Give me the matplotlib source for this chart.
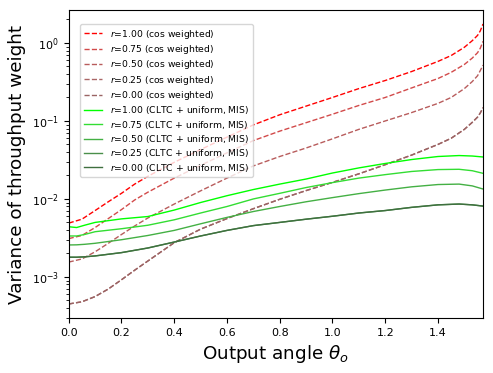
import numpy as np
import matplotlib
matplotlib.use('Agg')
import matplotlib.pyplot as plt

# 出射角 (rad)
theta_cos = [0.0, 0.05, 0.1, 0.15, 0.2, 0.25, 0.3, 0.4, 0.5, 0.6, 0.7, 0.8, 0.9, 1.0,
             1.1, 1.2, 1.3, 1.4, 1.45, 1.5, 1.53, 1.55, 1.56, 1.5708]
theta_mis = [0.0, 0.03, 0.06, 0.1, 0.2, 0.3, 0.4, 0.5, 0.6, 0.7, 0.8, 0.9, 1.0,
             1.1, 1.2, 1.3, 1.4, 1.48, 1.53, 1.5708]

r_values = [1.00, 0.75, 0.50, 0.25, 0.00]

# cos weighted 的方差
cos_r100 = [4.9e-3, 5.5e-3, 7.1e-3, 9.2e-3, 1.18e-2, 1.55e-2, 1.95e-2, 2.95e-2, 4.3e-2, 6.2e-2,
            8.9e-2, 0.12, 0.155, 0.2, 0.26, 0.33, 0.43, 0.58, 0.69, 0.88, 1.07, 1.25, 1.42, 1.75]
cos_r075 = [3.1e-3, 3.4e-3, 4.3e-3, 5.6e-3, 7.3e-3, 9.7e-3, 1.22e-2, 1.85e-2, 2.7e-2, 3.9e-2,
            5.6e-2, 7.4e-2, 9.5e-2, 0.122, 0.158, 0.2, 0.265, 0.35, 0.42, 0.53, 0.64, 0.75, 0.85, 1.05]
cos_r050 = [1.55e-3, 1.7e-3, 2.1e-3, 2.7e-3, 3.5e-3, 4.5e-3, 5.7e-3, 8.6e-3, 1.27e-2, 1.85e-2,
            2.65e-2, 3.5e-2, 4.5e-2, 5.9e-2, 7.8e-2, 0.1, 0.128, 0.168, 0.2, 0.26, 0.32, 0.38, 0.44, 0.52]
cos_r025 = [4.5e-4, 4.8e-4, 5.6e-4, 7.0e-4, 9.2e-4, 1.22e-3, 1.6e-3, 2.75e-3, 4.1e-3, 5.6e-3,
            7.5e-3, 9.9e-3, 1.28e-2, 1.63e-2, 2.1e-2, 2.75e-2, 3.65e-2, 5.0e-2, 6.0e-2, 7.8e-2,
            9.6e-2, 0.112, 0.126, 0.148]
cos_r000 = [4.5e-4, 4.8e-4, 5.6e-4, 7.0e-4, 9.2e-4, 1.22e-3, 1.6e-3, 2.75e-3, 4.1e-3, 5.6e-3,
            7.5e-3, 9.9e-3, 1.28e-2, 1.63e-2, 2.1e-2, 2.75e-2, 3.65e-2, 5.0e-2, 6.0e-2, 7.8e-2,
            9.6e-2, 0.112, 0.126, 0.148]

# CLTC + uniform, MIS 的方差
mis_r100 = [4.4e-3, 4.3e-3, 4.6e-3, 5.0e-3, 5.55e-3, 5.95e-3, 7.2e-3, 9.0e-3, 1.1e-2, 1.32e-2,
            1.55e-2, 1.8e-2, 2.15e-2, 2.5e-2, 2.85e-2, 3.2e-2, 3.5e-2, 3.6e-2, 3.55e-2, 3.45e-2]
mis_r075 = [3.35e-3, 3.35e-3, 3.5e-3, 3.8e-3, 4.15e-3, 4.6e-3, 5.4e-3, 6.6e-3, 8.0e-3, 1.0e-2,
            1.18e-2, 1.4e-2, 1.62e-2, 1.85e-2, 2.05e-2, 2.25e-2, 2.38e-2, 2.4e-2, 2.3e-2, 2.13e-2]
mis_r050 = [2.57e-3, 2.58e-3, 2.62e-3, 2.7e-3, 3.0e-3, 3.4e-3, 3.95e-3, 4.8e-3, 5.8e-3, 6.9e-3,
            8.0e-3, 9.2e-3, 1.04e-2, 1.17e-2, 1.3e-2, 1.43e-2, 1.53e-2, 1.55e-2, 1.47e-2, 1.34e-2]
mis_r025 = [1.79e-3, 1.79e-3, 1.81e-3, 1.86e-3, 2.05e-3, 2.35e-3, 2.8e-3, 3.35e-3, 3.95e-3, 4.55e-3,
            5.0e-3, 5.5e-3, 6.0e-3, 6.6e-3, 7.1e-3, 7.8e-3, 8.4e-3, 8.6e-3, 8.4e-3, 8.1e-3]
mis_r000 = [1.79e-3, 1.79e-3, 1.81e-3, 1.86e-3, 2.05e-3, 2.35e-3, 2.8e-3, 3.35e-3, 3.95e-3, 4.55e-3,
            5.0e-3, 5.5e-3, 6.0e-3, 6.6e-3, 7.1e-3, 7.8e-3, 8.4e-3, 8.6e-3, 8.4e-3, 8.1e-3]

cos_series = [cos_r100, cos_r075, cos_r050, cos_r025, cos_r000]
mis_series = [mis_r100, mis_r075, mis_r050, mis_r025, mis_r000]

cos_colors = ['#ff0000', '#d24a4a', '#b85c5c', '#aa6666', '#9a6464']
mis_colors = ['#00ff00', '#33dd33', '#44b044', '#4a8f4a', '#3f6f3f']

fig = plt.figure(figsize=(4.93, 3.73), dpi=100)
ax = fig.add_axes([0.1394, 0.1475, 0.8404, 0.8257])

for r, vals, c in zip(r_values, cos_series, cos_colors):
    ax.plot(theta_cos, vals, '--', color=c, linewidth=1.0,
            label=f'$r$={r:.2f} (cos weighted)')
for r, vals, c in zip(r_values, mis_series, mis_colors):
    ax.plot(theta_mis, vals, '-', color=c, linewidth=1.0,
            label=f'$r$={r:.2f} (CLTC + uniform, MIS)')

ax.set_yscale('log')
ax.set_xlim(0, np.pi / 2)
ax.set_xlabel(r'Output angle $\theta_o$', fontsize=13.2)
ax.set_ylabel('Variance of throughput weight', fontsize=13.2)
ax.tick_params(labelsize=8)
ax.legend(loc='upper left', bbox_to_anchor=(0.027, 0.955), borderaxespad=0,
          fontsize=6.7, labelspacing=0.25)

plt.savefig('out.png', dpi=100)
